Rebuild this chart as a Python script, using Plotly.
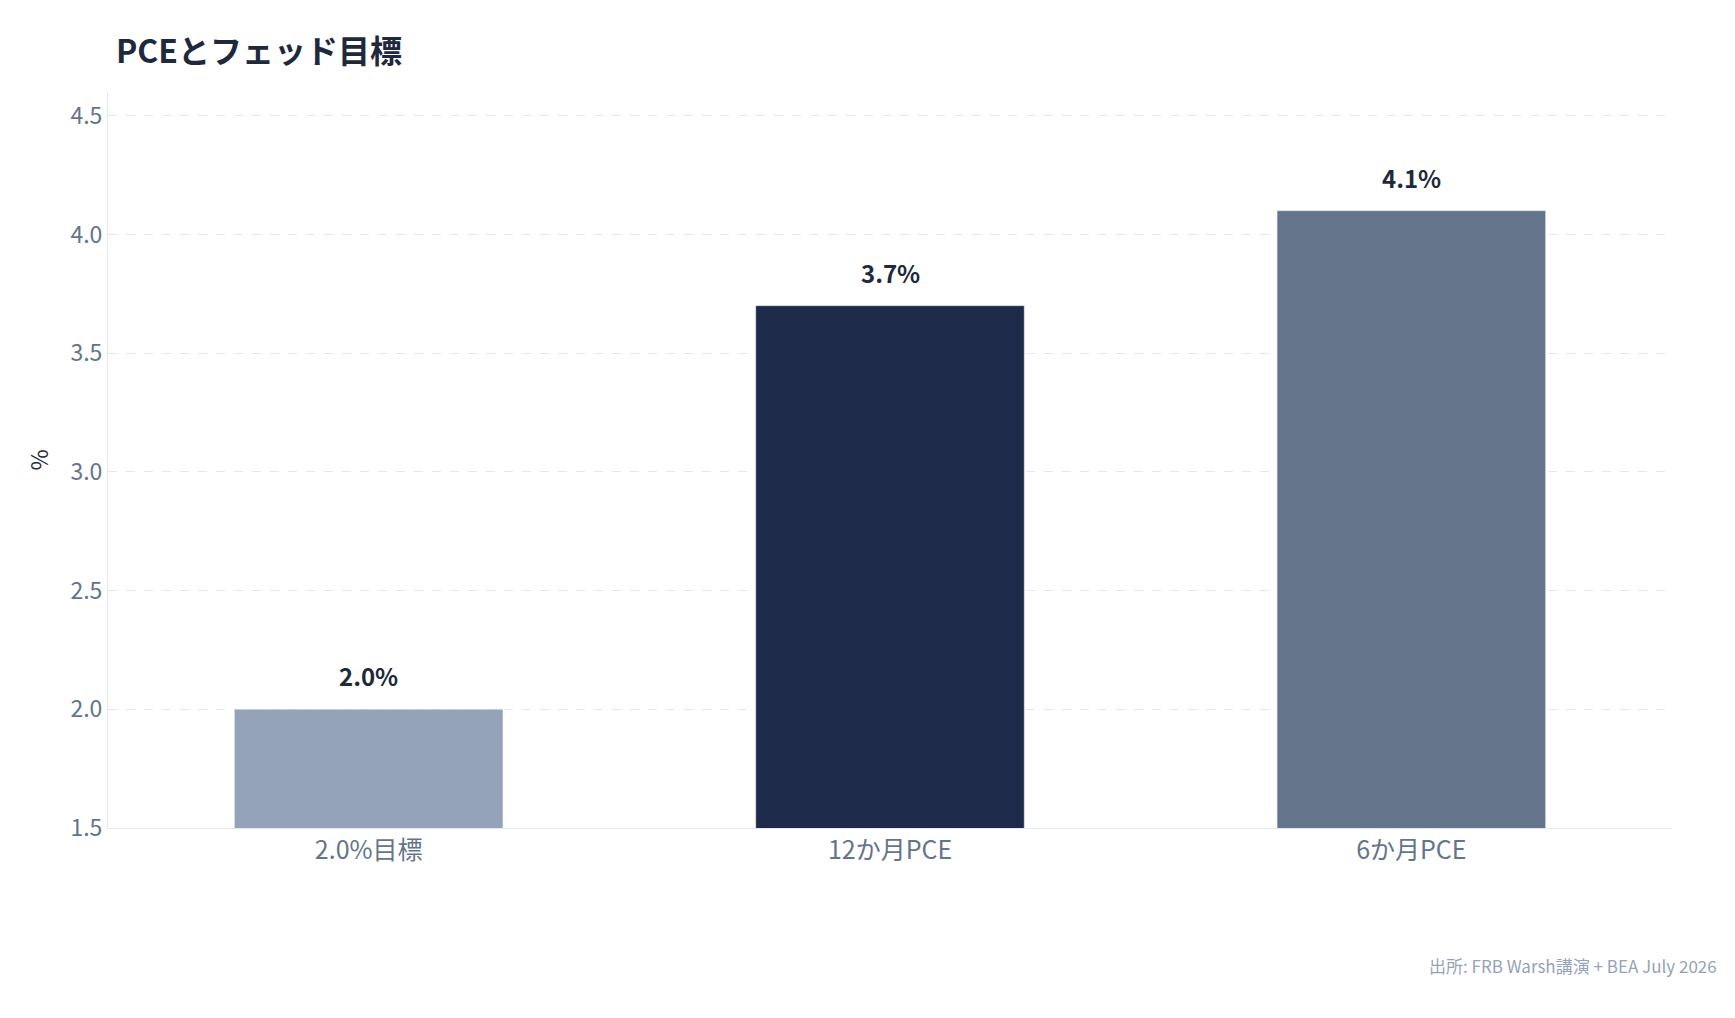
import plotly.graph_objects as go

categories = ["2.0%目標", "12か月PCE", "6か月PCE"]
values = [2.0, 3.7, 4.1]
labels = ["2.0%", "3.7%", "4.1%"]
colors = ["#94a3b8", "#1e2a4a", "#64748b"]
yticks = [1.5, 2.0, 2.5, 3.0, 3.5, 4.0, 4.5]

font = "Noto Sans CJK JP"
fig = go.Figure(go.Bar(
    x=categories, y=values, marker_color=colors, width=0.515,
))
anns = [dict(x=c, y=v, text=f"<b>{t}</b>", showarrow=False, yanchor="bottom", yshift=14,
             font=dict(size=24, color="#1e293b", family=font))
        for c, v, t in zip(categories, values, labels)]
anns.append(dict(text="出所: FRB Warsh講演 + BEA July 2026", xref="paper", yref="paper",
                 x=1+47/1564, y=-137/736, xanchor="right", yanchor="middle",
                 showarrow=False, font=dict(size=17, color="#94a3b8", family=font)))
fig.update_layout(
    width=1735, height=1018,
    margin=dict(l=100, r=71, t=84, b=198),
    paper_bgcolor="white", plot_bgcolor="white",
    font=dict(family=font),
    title=dict(text="<b>PCEとフェッド目標</b>", x=108/1735, xanchor="left",
               y=1-44/1018, yanchor="middle",
               font=dict(size=32, color="#1e293b", family=font)),
    showlegend=False,
    annotations=anns,
)
fig.update_yaxes(range=[1.5, 4.6], tickvals=yticks, ticktext=[f"{v:.1f}" for v in yticks],
                 showgrid=True, gridcolor="#e2e8f0", griddash="dash",
                 showline=True, linecolor="#e2e8f0", ticks="",
                 tickfont=dict(size=23, color="#64748b"),
                 title=dict(text="%", font=dict(size=23, color="#1e293b")), zeroline=False)
fig.update_xaxes(showline=True, linecolor="#e2e8f0", tickfont=dict(size=25, color="#64748b"))
fig.write_html("out.html")
